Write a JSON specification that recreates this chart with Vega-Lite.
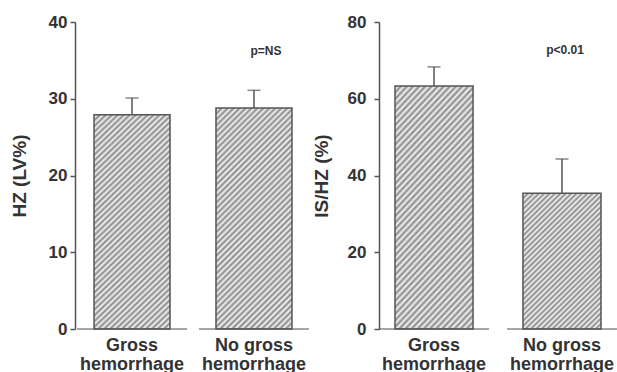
{
"$schema":"https://vega.github.io/schema/vega-lite/v6.json",
"padding":{"left":10,"top":13,"right":0,"bottom":0},
"spacing":1,
"config":{"view":{"stroke":null},"font":"Liberation Sans",
"bar":{"fill":{"gradient":"linear","x1":0,"y1":0,"x2":0.41,"y2":1.2,"stops":[{"offset":0,"color":"#888"},{"offset":0.01,"color":"#f4f4f4"},{"offset":0.02,"color":"#888"},{"offset":0.03,"color":"#f4f4f4"},{"offset":0.04,"color":"#888"},{"offset":0.05,"color":"#f4f4f4"},{"offset":0.06,"color":"#888"},{"offset":0.07,"color":"#f4f4f4"},{"offset":0.08,"color":"#888"},{"offset":0.09,"color":"#f4f4f4"},{"offset":0.1,"color":"#888"},{"offset":0.11,"color":"#f4f4f4"},{"offset":0.12,"color":"#888"},{"offset":0.13,"color":"#f4f4f4"},{"offset":0.14,"color":"#888"},{"offset":0.15,"color":"#f4f4f4"},{"offset":0.16,"color":"#888"},{"offset":0.17,"color":"#f4f4f4"},{"offset":0.18,"color":"#888"},{"offset":0.19,"color":"#f4f4f4"},{"offset":0.2,"color":"#888"},{"offset":0.21,"color":"#f4f4f4"},{"offset":0.22,"color":"#888"},{"offset":0.23,"color":"#f4f4f4"},{"offset":0.24,"color":"#888"},{"offset":0.25,"color":"#f4f4f4"},{"offset":0.26,"color":"#888"},{"offset":0.27,"color":"#f4f4f4"},{"offset":0.28,"color":"#888"},{"offset":0.29,"color":"#f4f4f4"},{"offset":0.3,"color":"#888"},{"offset":0.31,"color":"#f4f4f4"},{"offset":0.32,"color":"#888"},{"offset":0.33,"color":"#f4f4f4"},{"offset":0.34,"color":"#888"},{"offset":0.35,"color":"#f4f4f4"},{"offset":0.36,"color":"#888"},{"offset":0.37,"color":"#f4f4f4"},{"offset":0.38,"color":"#888"},{"offset":0.39,"color":"#f4f4f4"},{"offset":0.4,"color":"#888"},{"offset":0.41,"color":"#f4f4f4"},{"offset":0.42,"color":"#888"},{"offset":0.43,"color":"#f4f4f4"},{"offset":0.44,"color":"#888"},{"offset":0.45,"color":"#f4f4f4"},{"offset":0.46,"color":"#888"},{"offset":0.47,"color":"#f4f4f4"},{"offset":0.48,"color":"#888"},{"offset":0.49,"color":"#f4f4f4"},{"offset":0.5,"color":"#888"},{"offset":0.51,"color":"#f4f4f4"},{"offset":0.52,"color":"#888"},{"offset":0.53,"color":"#f4f4f4"},{"offset":0.54,"color":"#888"},{"offset":0.55,"color":"#f4f4f4"},{"offset":0.56,"color":"#888"},{"offset":0.57,"color":"#f4f4f4"},{"offset":0.58,"color":"#888"},{"offset":0.59,"color":"#f4f4f4"},{"offset":0.6,"color":"#888"},{"offset":0.61,"color":"#f4f4f4"},{"offset":0.62,"color":"#888"},{"offset":0.63,"color":"#f4f4f4"},{"offset":0.64,"color":"#888"},{"offset":0.65,"color":"#f4f4f4"},{"offset":0.66,"color":"#888"},{"offset":0.67,"color":"#f4f4f4"},{"offset":0.68,"color":"#888"},{"offset":0.69,"color":"#f4f4f4"},{"offset":0.7,"color":"#888"},{"offset":0.71,"color":"#f4f4f4"},{"offset":0.72,"color":"#888"},{"offset":0.73,"color":"#f4f4f4"},{"offset":0.74,"color":"#888"},{"offset":0.75,"color":"#f4f4f4"},{"offset":0.76,"color":"#888"},{"offset":0.77,"color":"#f4f4f4"},{"offset":0.78,"color":"#888"},{"offset":0.79,"color":"#f4f4f4"},{"offset":0.8,"color":"#888"},{"offset":0.81,"color":"#f4f4f4"},{"offset":0.82,"color":"#888"},{"offset":0.83,"color":"#f4f4f4"},{"offset":0.84,"color":"#888"},{"offset":0.85,"color":"#f4f4f4"},{"offset":0.86,"color":"#888"},{"offset":0.87,"color":"#f4f4f4"},{"offset":0.88,"color":"#888"},{"offset":0.89,"color":"#f4f4f4"},{"offset":0.9,"color":"#888"},{"offset":0.91,"color":"#f4f4f4"},{"offset":0.92,"color":"#888"},{"offset":0.93,"color":"#f4f4f4"},{"offset":0.94,"color":"#888"},{"offset":0.95,"color":"#f4f4f4"},{"offset":0.96,"color":"#888"},{"offset":0.97,"color":"#f4f4f4"},{"offset":0.98,"color":"#888"},{"offset":0.99,"color":"#f4f4f4"},{"offset":1,"color":"#888"}]}}
},
"hconcat":[
{
"width":236,"height":307,
"data":{"values":[
{"group":"Gross hemorrhage","value":27.9,"upper":30.1},
{"group":"No gross hemorrhage","value":28.8,"upper":31.1}
]},
"encoding":{"x":{"field":"group","type":"nominal","sort":null,
"scale":{"domain":["Gross hemorrhage","No gross hemorrhage"],"paddingInner":0.377,"paddingOuter":0.156},
"axis":{"title":null,"labelAngle":0,"domain":false,"ticks":false,"labelFontSize":18,"labelFontWeight":"bold","labelLineHeight":19,"labelPadding":7,"labelColor":"#333",
"labelExpr":"[slice(datum.label,0,lastindexof(datum.label,' ')), slice(datum.label,lastindexof(datum.label,' ')+1)]"}}},
"layer":[
{"mark":{"type":"bar","stroke":"#555","strokeWidth":1.5},
"encoding":{"y":{"field":"value","type":"quantitative","scale":{"domain":[0,40]},
"axis":{"title":"HZ (LV%)","grid":false,"values":[0,5,10,15,20,25,30,35,40],
"labelExpr":"datum.value % 10 === 0 ? datum.label : ''",
"tickSize":{"condition":{"test":"datum.value % 10 === 0","value":5},"value":3},
"tickColor":"#555","tickWidth":1.5,"domainColor":"#555","domainWidth":1.5,
"labelFontSize":17,"labelFontWeight":"bold","labelColor":"#333","labelPadding":3,
"titleFontSize":19,"titleFontWeight":"bold","titleColor":"#333","titlePadding":19}}}},
{"mark":{"type":"rule","color":"#555","strokeWidth":1.5},
"encoding":{"y":{"field":"value","type":"quantitative"},"y2":{"field":"upper"}}},
{"mark":{"type":"tick","size":13,"thickness":1.5,"color":"#555"},
"encoding":{"y":{"field":"upper","type":"quantitative"}}},
{"mark":{"type":"tick","size":110,"thickness":1.5,"color":"#555"},
"encoding":{"y":{"datum":0,"type":"quantitative"}}},
{"data":{"values":[{"group":"No gross hemorrhage","y":36.2,"label":"p=NS"}]},
"mark":{"type":"text","dx":12,"fontWeight":"bold","fontSize":12,"color":"#333"},
"encoding":{"y":{"field":"y","type":"quantitative"},"text":{"field":"label"}}}
]
},
{
"width":238,"height":307,
"data":{"values":[
{"group":"Gross hemorrhage","value":63.3,"upper":68.3},
{"group":"No gross hemorrhage","value":35.4,"upper":44.3}
]},
"encoding":{"x":{"field":"group","type":"nominal","sort":null,
"scale":{"domain":["Gross hemorrhage","No gross hemorrhage"],"paddingInner":0.39,"paddingOuter":0.125},
"axis":{"title":null,"labelAngle":0,"domain":false,"ticks":false,"labelFontSize":18,"labelFontWeight":"bold","labelLineHeight":19,"labelPadding":7,"labelColor":"#333",
"labelExpr":"[slice(datum.label,0,lastindexof(datum.label,' ')), slice(datum.label,lastindexof(datum.label,' ')+1)]"}}},
"layer":[
{"transform":[{"filter":"datum.group == 'Gross hemorrhage'"}],
"mark":{"type":"bar","stroke":"#555","strokeWidth":1.5},
"encoding":{"y":{"field":"value","type":"quantitative","scale":{"domain":[0,80]},
"axis":{"title":"IS/HZ (%)","grid":false,"values":[0,10,20,30,40,50,60,70,80],
"labelExpr":"datum.value % 20 === 0 ? datum.label : ''",
"tickSize":{"condition":{"test":"datum.value % 20 === 0","value":5},"value":3},
"tickColor":"#555","tickWidth":1.5,"domainColor":"#555","domainWidth":1.5,
"labelFontSize":17,"labelFontWeight":"bold","labelColor":"#333","labelPadding":8,
"titleFontSize":19,"titleFontWeight":"bold","titleColor":"#333","titlePadding":16}}}},
{"transform":[{"filter":"datum.group == 'No gross hemorrhage'"}],
"mark":{"type":"bar","stroke":"#555","strokeWidth":1.5,
"fill":{"gradient":"linear","x1":0,"y1":0,"x2":0.671,"y2":1.186,"stops":[{"offset":0,"color":"#888"},{"offset":0.0125,"color":"#f4f4f4"},{"offset":0.025,"color":"#888"},{"offset":0.0375,"color":"#f4f4f4"},{"offset":0.05,"color":"#888"},{"offset":0.0625,"color":"#f4f4f4"},{"offset":0.075,"color":"#888"},{"offset":0.0875,"color":"#f4f4f4"},{"offset":0.1,"color":"#888"},{"offset":0.1125,"color":"#f4f4f4"},{"offset":0.125,"color":"#888"},{"offset":0.1375,"color":"#f4f4f4"},{"offset":0.15,"color":"#888"},{"offset":0.1625,"color":"#f4f4f4"},{"offset":0.175,"color":"#888"},{"offset":0.1875,"color":"#f4f4f4"},{"offset":0.2,"color":"#888"},{"offset":0.2125,"color":"#f4f4f4"},{"offset":0.225,"color":"#888"},{"offset":0.2375,"color":"#f4f4f4"},{"offset":0.25,"color":"#888"},{"offset":0.2625,"color":"#f4f4f4"},{"offset":0.275,"color":"#888"},{"offset":0.2875,"color":"#f4f4f4"},{"offset":0.3,"color":"#888"},{"offset":0.3125,"color":"#f4f4f4"},{"offset":0.325,"color":"#888"},{"offset":0.3375,"color":"#f4f4f4"},{"offset":0.35,"color":"#888"},{"offset":0.3625,"color":"#f4f4f4"},{"offset":0.375,"color":"#888"},{"offset":0.3875,"color":"#f4f4f4"},{"offset":0.4,"color":"#888"},{"offset":0.4125,"color":"#f4f4f4"},{"offset":0.425,"color":"#888"},{"offset":0.4375,"color":"#f4f4f4"},{"offset":0.45,"color":"#888"},{"offset":0.4625,"color":"#f4f4f4"},{"offset":0.475,"color":"#888"},{"offset":0.4875,"color":"#f4f4f4"},{"offset":0.5,"color":"#888"},{"offset":0.5125,"color":"#f4f4f4"},{"offset":0.525,"color":"#888"},{"offset":0.5375,"color":"#f4f4f4"},{"offset":0.55,"color":"#888"},{"offset":0.5625,"color":"#f4f4f4"},{"offset":0.575,"color":"#888"},{"offset":0.5875,"color":"#f4f4f4"},{"offset":0.6,"color":"#888"},{"offset":0.6125,"color":"#f4f4f4"},{"offset":0.625,"color":"#888"},{"offset":0.6375,"color":"#f4f4f4"},{"offset":0.65,"color":"#888"},{"offset":0.6625,"color":"#f4f4f4"},{"offset":0.675,"color":"#888"},{"offset":0.6875,"color":"#f4f4f4"},{"offset":0.7,"color":"#888"},{"offset":0.7125,"color":"#f4f4f4"},{"offset":0.725,"color":"#888"},{"offset":0.7375,"color":"#f4f4f4"},{"offset":0.75,"color":"#888"},{"offset":0.7625,"color":"#f4f4f4"},{"offset":0.775,"color":"#888"},{"offset":0.7875,"color":"#f4f4f4"},{"offset":0.8,"color":"#888"},{"offset":0.8125,"color":"#f4f4f4"},{"offset":0.825,"color":"#888"},{"offset":0.8375,"color":"#f4f4f4"},{"offset":0.85,"color":"#888"},{"offset":0.8625,"color":"#f4f4f4"},{"offset":0.875,"color":"#888"},{"offset":0.8875,"color":"#f4f4f4"},{"offset":0.9,"color":"#888"},{"offset":0.9125,"color":"#f4f4f4"},{"offset":0.925,"color":"#888"},{"offset":0.9375,"color":"#f4f4f4"},{"offset":0.95,"color":"#888"},{"offset":0.9625,"color":"#f4f4f4"},{"offset":0.975,"color":"#888"},{"offset":0.9875,"color":"#f4f4f4"},{"offset":1,"color":"#888"}]}},
"encoding":{"y":{"field":"value","type":"quantitative"}}},
{"mark":{"type":"rule","color":"#555","strokeWidth":1.5},
"encoding":{"y":{"field":"value","type":"quantitative"},"y2":{"field":"upper"}}},
{"mark":{"type":"tick","size":13,"thickness":1.5,"color":"#555"},
"encoding":{"y":{"field":"upper","type":"quantitative"}}},
{"mark":{"type":"tick","size":110,"thickness":1.5,"color":"#555"},
"encoding":{"y":{"datum":0,"type":"quantitative"}}},
{"data":{"values":[{"group":"No gross hemorrhage","y":72.6,"label":"p<0.01"}]},
"mark":{"type":"text","dx":3,"fontWeight":"bold","fontSize":12,"color":"#333"},
"encoding":{"y":{"field":"y","type":"quantitative"},"text":{"field":"label"}}}
]
}
]
}
